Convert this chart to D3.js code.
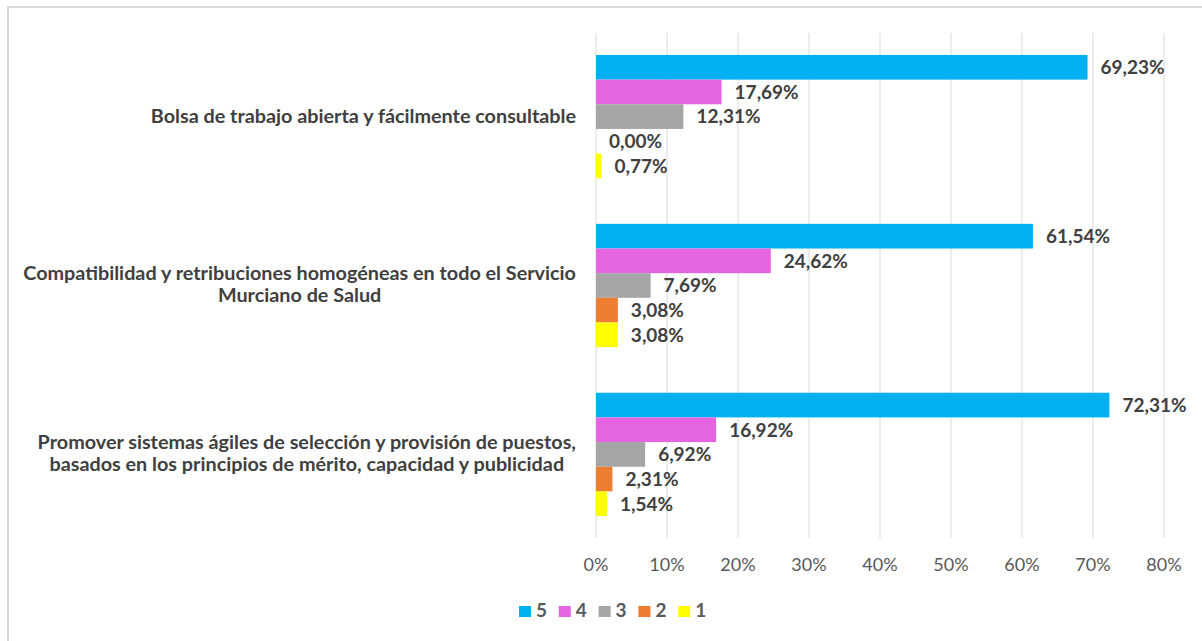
<!DOCTYPE html>
<html lang="en">
<head>
<meta charset="UTF-8">
<title>Valoración de medidas</title>
<script src="https://d3js.org/d3.v7.min.js"></script>
<style>
    body { margin: 0; background: #fff; }
    svg { display: block; font-family: Lato, "Open Sans", sans-serif; }
    .grid line { stroke: #d9d9d9; stroke-width: 1px; }
    .tick-label { fill: #595959; font-size: 18px; }
    .cat-label { fill: #404040; font-size: 19.8px; font-weight: bold; }
    .val-label { fill: #404040; font-size: 19px; font-weight: bold; }
    .legend text { fill: #595959; font-size: 19px; font-weight: bold; }
</style>
</head>
<body>
<script>

// data (top category first)
const categories = [
    "Bolsa de trabajo abierta y fácilmente consultable",
    "Compatibilidad y retribuciones homogéneas en todo el Servicio Murciano de Salud",
    "Promover sistemas ágiles de selección y provisión de puestos, basados en los principios de mérito, capacidad y publicidad"
]
// how the category names break in the picture
const categoryLines = [
    ["Bolsa de trabajo abierta y fácilmente consultable"],
    ["Compatibilidad y retribuciones homogéneas en todo el Servicio", "Murciano de Salud"],
    ["Promover sistemas ágiles de selección y provisión de puestos,", "basados en los principios de mérito, capacidad y publicidad"]
]
const series = ["5", "4", "3", "2", "1"]
const values5 = [0.6923, 0.6154, 0.7231]
const values4 = [0.1769, 0.2462, 0.1692]
const values3 = [0.1231, 0.0769, 0.0692]
const values2 = [0.0000, 0.0308, 0.0231]
const values1 = [0.0077, 0.0308, 0.0154]
const xTicks = [0, 0.1, 0.2, 0.3, 0.4, 0.5, 0.6, 0.7, 0.8]
const colors = ["#00b0f0", "#e565e0", "#a5a5a5", "#ed7d31", "#ffff00"]

const allValues = [values5, values4, values3, values2, values1]

const W = 1202, H = 641
const PLOT = {LEFT: 596, RIGHT: 1164, TOP: 33, BOTTOM: 538}

const es = d3.formatLocale({decimal: ",", thousands: ".", grouping: [3], currency: ["", "€"]})
const pct2 = es.format(".2%")
const pct0 = es.format(".0%")

const svg = d3.select("body").append("svg")
    .attr("width", W)
    .attr("height", H)

// chart border (runs off the right and bottom of the shot)
svg.append("rect")
    .attr("x", 8).attr("y", 7)
    .attr("width", W + 20).attr("height", H + 20)
    .attr("fill", "#fff")
    .attr("stroke", "#d9d9d9")
    .attr("stroke-width", 2)

const x = d3.scaleLinear().domain([0, 0.8]).range([PLOT.LEFT, PLOT.RIGHT])
const y = d3.scaleBand().domain(categories).range([PLOT.TOP, PLOT.BOTTOM])
    .paddingInner(0.27).paddingOuter(0.13)
const ySub = d3.scaleBand().domain(series).range([0, y.bandwidth()])

// vertical gridlines
svg.append("g").attr("class", "grid")
    .selectAll("line")
    .data(xTicks)
    .join("line")
    .attr("x1", d => x(d)).attr("x2", d => x(d))
    .attr("y1", PLOT.TOP).attr("y2", PLOT.BOTTOM)

// x tick labels
svg.append("g")
    .selectAll("text")
    .data(xTicks)
    .join("text")
    .attr("class", "tick-label")
    .attr("x", d => x(d))
    .attr("y", 571)
    .attr("text-anchor", "middle")
    .text(d => pct0(d))

// bars
const groups = svg.append("g")
    .selectAll("g")
    .data(categories)
    .join("g")
    .attr("transform", c => `translate(0, ${y(c)})`)

groups.each(function(c, ci) {
    const g = d3.select(this)
    series.forEach((s, si) => {
        const v = allValues[si][ci]
        g.append("rect")
            .attr("x", x(0))
            .attr("y", ySub(s))
            .attr("width", x(v) - x(0))
            .attr("height", ySub.bandwidth())
            .attr("fill", colors[si])
        g.append("text")
            .attr("class", "val-label")
            .attr("x", x(v) + 13)
            .attr("y", ySub(s) + ySub.bandwidth() / 2)
            .attr("dy", "0.36em")
            .text(pct2(v))
    })
})

// category labels: lines centred on each other, block right-aligned
categories.forEach((c, ci) => {
    const lines = categoryLines[ci]
    const t = svg.append("text")
        .attr("class", "cat-label")
        .attr("text-anchor", "middle")
    const lh = 22
    const cy = y(c) + y.bandwidth() / 2 - (lines.length - 1) * lh / 2 - 1
    lines.forEach((l, li) => {
        t.append("tspan").attr("y", cy + li * lh).attr("dy", "0.35em").text(l)
    })
    let maxW = 0
    t.selectAll("tspan").each(function() { maxW = Math.max(maxW, this.getComputedTextLength()) })
    t.selectAll("tspan").attr("x", 576 - maxW / 2)
})

// legend
const legend = svg.append("g").attr("class", "legend")
    .attr("transform", "translate(519, 617)")
let lx = 0
series.forEach((s, i) => {
    const row = legend.append("g").attr("transform", `translate(${lx}, 0)`)
    row.append("rect")
        .attr("x", 0).attr("y", -11)
        .attr("width", 12).attr("height", 11)
        .attr("fill", colors[i])
    row.append("text")
        .attr("x", 17).attr("y", 0)
        .text(s)
    lx += 39.8
})

</script>
</body>
</html>
